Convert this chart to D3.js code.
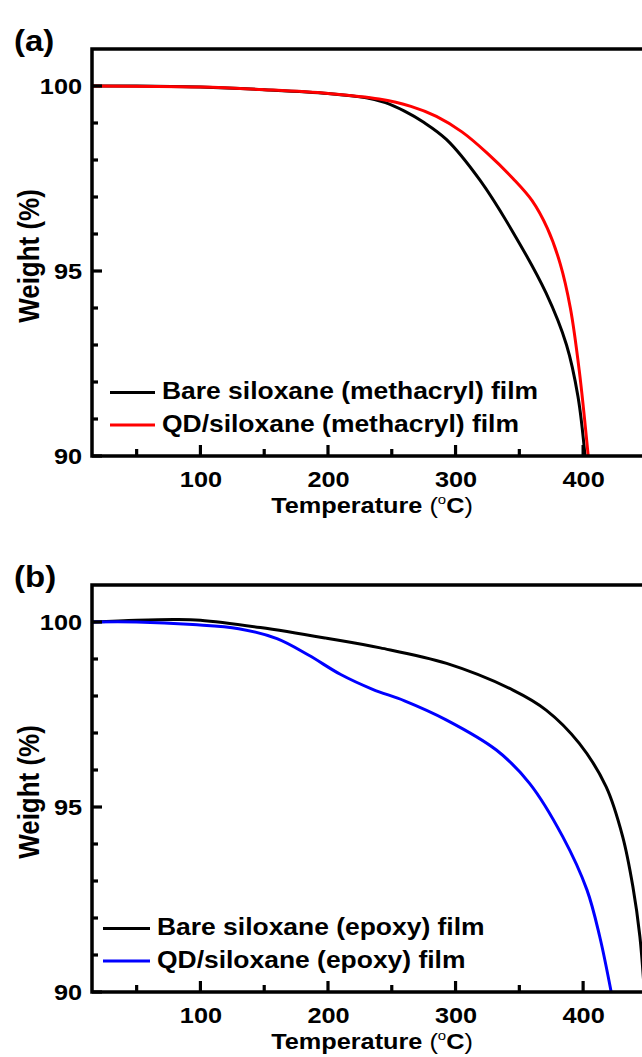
<!DOCTYPE html>
<html lang="en">
<head>
<meta charset="utf-8" />
<title>TGA curves</title>
<script src="https://cdnjs.cloudflare.com/ajax/libs/d3/7.8.5/d3.min.js"></script>
<style>
  body { margin: 0; background: #fff; overflow: hidden; }
  text { font-family: "Liberation Sans", Arial, sans-serif; font-weight: bold; fill: #000; }
</style>
</head>
<body>
<div id="chart"></div>
<script>
// data: [temperature (C), weight (%)]
var methacrylBare = [[15,100],[50,100],[100,99.97],[150,99.9],[200,99.8],[230,99.68],[245,99.55],[260,99.32],
  [275,99.02],[293,98.55],[319,97.46],[345,96.05],[371,94.4],[387,93.0],[396,91.6],[401.5,90]];
var methacrylQD = [[15,100],[100,99.97],[150,99.9],[200,99.8],[240,99.65],[265,99.45],[285,99.18],[305,98.76],
  [325,98.18],[345,97.5],[360,96.9],[372,96.15],[382,95.2],[390,94.0],[397,92.3],[404,90]];
var epoxyBare = [[15,100],[50,100.05],[80,100.07],[100,100.05],[147,99.85],[199,99.56],[241,99.3],
  [293,98.88],[345,98.16],[371,97.62],[397,96.72],[418,95.55],[431,94.2],[439,92.85],[444.5,91.5],[448,90]];
var epoxyQD = [[15,100],[50,100],[94,99.93],[130,99.82],[160,99.55],[185,99.1],[210,98.58],[235,98.18],[260,97.87],
  [293,97.35],[332,96.54],[358,95.64],[384,94.2],[403,92.76],[413,91.5],[422,90]];

var xMajor = [100, 200, 300, 400];
var xMinor = [50, 150, 250, 350, 450];
var yMajor = [90, 95, 100];
var yMinor = [91, 92, 93, 94, 96, 97, 98, 99];

var panels = [
  { label: "(a)", top: 49, names: ["Bare siloxane (methacryl) film", "QD/siloxane (methacryl) film"],
    series: [methacrylBare, methacrylQD], colors: ["#000000", "#ff0000"], legX: [110, 155, 162] },
  { label: "(b)", top: 585, names: ["Bare siloxane (epoxy) film", "QD/siloxane (epoxy) film"],
    series: [epoxyBare, epoxyQD], colors: ["#000000", "#0000ff"], legX: [103, 150, 157] }
];

var W = 642, H = 1057;
var left = 92, right = 652, plotH = 407;
var sx = 1.15; // text in the picture is a little wide

var svg = d3.select("#chart").append("svg")
  .attr("width", W).attr("height", H);
svg.append("rect").attr("width", W).attr("height", H).attr("fill", "#fff");

var x = d3.scaleLinear().domain([15, 454]).range([left, right]);

panels.forEach(function(p, i) {
  var bottom = p.top + plotH;
  var y = d3.scaleLinear().domain([90, 101]).range([bottom, p.top]);
  var g = svg.append("g");

  g.append("clipPath").attr("id", "clip" + i)
    .append("rect").attr("x", left).attr("y", p.top).attr("width", right - left).attr("height", plotH);

  var line = d3.line()
    .x(function(d) { return x(d[0]); })
    .y(function(d) { return y(d[1]); })
    .curve(d3.curveCatmullRom.alpha(0.5));

  p.series.forEach(function(s, k) {
    g.append("path").datum(s)
      .attr("clip-path", "url(#clip" + i + ")")
      .attr("fill", "none")
      .attr("stroke", p.colors[k])
      .attr("stroke-width", 3)
      .attr("d", line);
  });

  // tick labels from the axes, tick marks drawn inward by hand
  g.append("g").attr("transform", "translate(0," + bottom + ")")
    .call(d3.axisBottom(x).tickValues(xMajor).tickSize(0).tickPadding(15.5));
  var ya = g.append("g").attr("transform", "translate(" + left + ",0)")
    .call(d3.axisLeft(y).tickValues(yMajor).tickSize(0).tickPadding(10));

  g.selectAll(".domain").remove();
  g.selectAll(".tick text").attr("font-size", 22).attr("fill", "#000")
    .attr("font-family", "Liberation Sans, Arial, sans-serif")
    .attr("transform", "scale(" + sx + ",1)");
  ya.selectAll(".tick text").attr("x", -10 / sx);

  var ticks = g.append("g").attr("stroke", "#000").attr("stroke-width", 3.2);
  ticks.selectAll(".xmaj").data(xMajor).enter().append("line")
    .attr("x1", function(d) { return x(d); }).attr("x2", function(d) { return x(d); })
    .attr("y1", bottom).attr("y2", bottom - 11);
  ticks.selectAll(".xmin").data(xMinor).enter().append("line")
    .attr("x1", function(d) { return x(d); }).attr("x2", function(d) { return x(d); })
    .attr("y1", bottom).attr("y2", bottom - 7);
  ticks.selectAll(".ymaj").data(yMajor).enter().append("line")
    .attr("y1", function(d) { return y(d); }).attr("y2", function(d) { return y(d); })
    .attr("x1", left).attr("x2", left + 10);
  ticks.selectAll(".ymin").data(yMinor).enter().append("line")
    .attr("y1", function(d) { return y(d); }).attr("y2", function(d) { return y(d); })
    .attr("x1", left).attr("x2", left + 6);

  // frame (right side runs off the page, as in the picture)
  g.append("rect")
    .attr("x", left).attr("y", p.top)
    .attr("width", right - left).attr("height", plotH)
    .attr("fill", "none").attr("stroke", "#000").attr("stroke-width", 3.5);

  // legend
  var legY = [bottom - 63.5, bottom - 31];
  p.names.forEach(function(name, k) {
    g.append("line")
      .attr("x1", p.legX[0]).attr("x2", p.legX[1])
      .attr("y1", legY[k]).attr("y2", legY[k])
      .attr("stroke", p.colors[k]).attr("stroke-width", 3);
    g.append("text")
      .attr("transform", "translate(" + p.legX[2] + "," + (legY[k] + 6.5) + ") scale(" + sx + ",1)")
      .attr("font-size", 23)
      .text(name);
  });

  // axis titles
  var xt = g.append("text")
    .attr("transform", "translate(372," + (bottom + 57) + ") scale(" + sx + ",1)")
    .attr("text-anchor", "middle")
    .attr("font-size", 22);
  xt.append("tspan").text("Temperature ");
  xt.append("tspan").attr("font-weight", "normal").text("(");
  xt.append("tspan").attr("font-size", 13).attr("font-weight", "normal").attr("dy", -9).text("o");
  xt.append("tspan").attr("dy", 9).text("C");
  xt.append("tspan").attr("font-weight", "normal").text(")");

  g.append("text")
    .attr("transform", "translate(38.5," + (p.top + 207) + ") rotate(-90) scale(1," + sx + ")")
    .attr("text-anchor", "middle")
    .attr("font-size", 26)
    .text("Weight (%)");

  g.append("text")
    .attr("transform", "translate(14," + (p.top + 2) + ") scale(1.1,1)")
    .attr("font-size", 30)
    .text(p.label);
});
</script>
</body>
</html>
